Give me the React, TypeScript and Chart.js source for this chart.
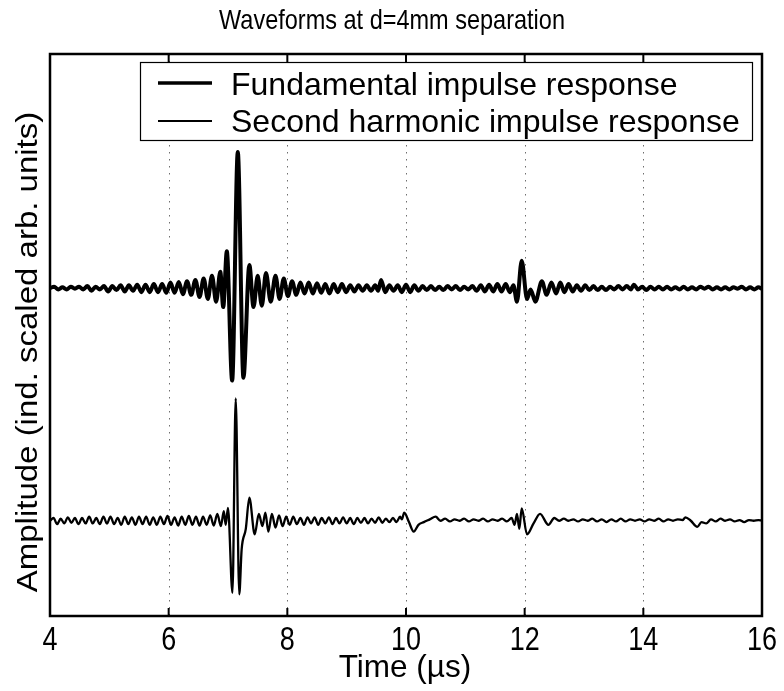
import React, { useEffect, useRef } from "react";
import { Chart, registerables } from "chart.js";

Chart.register(...registerables);

const TITLE = "Waveforms at d=4mm separation";
const X_LABEL = "Time (\u00b5s)";
const Y_LABEL = "Amplitude (ind. scaled arb. units)";
const X_TICKS = [4, 6, 8, 10, 12, 14, 16];
const X_TICK_LABELS = ["4", "6", "8", "10", "12", "14", "16"];
const SERIES_NAMES = ["Fundamental impulse response", "Second harmonic impulse response"];

// Fundamental: times (µs) and amplitudes (arb. units, main peak = 100)
const fundT = [
  4.00, 4.07, 4.14, 4.21, 4.28, 4.35, 4.42, 4.49, 4.56, 4.63, 4.70, 4.77, 4.84, 4.91, 4.98,
  5.05, 5.12, 5.19, 5.26, 5.33, 5.40, 5.47, 5.54, 5.61, 5.68, 5.75, 5.82, 5.89, 5.96,
  6.03, 6.10, 6.17, 6.24, 6.31, 6.38, 6.45, 6.52, 6.59, 6.66, 6.73, 6.80, 6.87, 6.92, 6.98,
  7.07, 7.165, 7.26, 7.36, 7.43, 7.50, 7.57, 7.64, 7.72, 7.80, 7.87, 7.94,
  8.01, 8.08, 8.15, 8.22, 8.29, 8.36, 8.43, 8.50, 8.57, 8.64, 8.71, 8.78, 8.85, 8.92, 8.99,
  9.06, 9.13, 9.20, 9.27, 9.34, 9.41, 9.48, 9.53, 9.58, 9.65, 9.72, 9.79, 9.86, 9.93,
  10.00, 10.07, 10.14, 10.21, 10.28, 10.35, 10.42, 10.49, 10.56, 10.63, 10.70, 10.77, 10.84, 10.91, 10.98,
  11.05, 11.12, 11.19, 11.26, 11.33, 11.40, 11.47, 11.54, 11.61, 11.68, 11.75, 11.81, 11.87, 11.95,
  12.04, 12.10, 12.18, 12.29, 12.37, 12.45, 12.53, 12.60, 12.67, 12.74, 12.81, 12.88, 12.95,
  13.02, 13.09, 13.16, 13.23, 13.30, 13.37, 13.44, 13.51, 13.58, 13.65, 13.72, 13.79, 13.84, 13.91, 13.98,
  14.05, 14.12, 14.19, 14.26, 14.33, 14.40, 14.47, 14.54, 14.61, 14.68, 14.75, 14.82, 14.89, 14.96,
  15.03, 15.10, 15.17, 15.24, 15.31, 15.38, 15.45, 15.52, 15.59, 15.66, 15.73, 15.80, 15.87, 15.94, 16.00,
];
const fundV = [
  0, 1, -1, 0.5, -1, 1, -0.5, 1, -1, 1.5, -2, 1, -1, 1.5, -2.5,
  1.5, -1.5, 2, -2.5, 2, -2, 2.5, -3, 2.5, -3, 3, -3, 3, -3.5,
  4, -3.5, 4.5, -4.5, 5, -5, 6, -6.5, 7, -8, 9, -10, 12, -14, 27,
  -68, 100, -66, 17, -14, 9, -13, 11, -10, 9, -8, 7,
  -6, 5, -5, 4, -4, 4, -4, 3.5, -3.5, 3, -4, 3, -3, 3, -3,
  2, -2.5, 2, -2, 2, -2, 2, -2, 6, -3, 2, -2, 2, -3,
  2.5, -3, 2, -2, 1.5, -1.5, 1.5, -1.5, 1, -1.5, 1.5, -1, 1.5, -1.5, 1,
  -1, 1.5, -2, 2, -2.5, 2.5, -2.5, 3, -2.5, 3, -3, 2, -10, 20,
  -8, -1, -10, 5, -5, 4, -4, 4, -3, 3, -2.5, 2, -2,
  2, -1.5, 1.5, -1.5, 1, -1.5, 1, -1, 1.5, -1, 1.5, -1, 2.5, -1, 1,
  -1.5, 1, -1, 1, -1, 1, -1, 0.5, -1, 1, -1, 0.5, -1, 1,
  -0.5, 1, -1, 0.5, -1, 0.5, -1, 0.5, -0.5, 1, -1, 0.5, -1, 0.5, -0.5,
];

// Second harmonic: times (µs) and amplitudes (arb. units)
const harmT = [
  4.00, 4.06, 4.12, 4.18, 4.24, 4.30, 4.36, 4.42, 4.48, 4.54, 4.60, 4.66, 4.72, 4.78, 4.84, 4.90, 4.96,
  5.02, 5.08, 5.14, 5.20, 5.26, 5.32, 5.38, 5.44, 5.50, 5.56, 5.62, 5.68, 5.74, 5.80, 5.86, 5.92, 5.98,
  6.04, 6.10, 6.16, 6.22, 6.28, 6.34, 6.40, 6.46, 6.52, 6.58, 6.64, 6.70, 6.76, 6.82, 6.88, 6.93, 6.96,
  7.00, 7.075, 7.13, 7.19, 7.23, 7.30, 7.36, 7.45, 7.52, 7.58, 7.63, 7.68, 7.74, 7.80, 7.86, 7.92, 7.98,
  8.04, 8.10, 8.16, 8.22, 8.28, 8.34, 8.40, 8.46, 8.52, 8.58, 8.64, 8.70, 8.76, 8.82, 8.88, 8.94,
  9.00, 9.06, 9.12, 9.18, 9.24, 9.30, 9.36, 9.42, 9.48, 9.54, 9.60, 9.66, 9.72, 9.78, 9.84, 9.90, 9.93, 9.97,
  10.05, 10.13, 10.21, 10.30, 10.40, 10.50, 10.58, 10.66, 10.74, 10.82, 10.90, 10.98,
  11.06, 11.14, 11.22, 11.30, 11.38, 11.46, 11.54, 11.62, 11.70, 11.78, 11.83, 11.87, 11.91, 11.95,
  12.04, 12.15, 12.26, 12.40, 12.50, 12.58, 12.66, 12.74, 12.82, 12.90, 12.98,
  13.06, 13.14, 13.22, 13.30, 13.38, 13.46, 13.54, 13.62, 13.70, 13.78, 13.86, 13.94,
  14.02, 14.10, 14.18, 14.26, 14.34, 14.42, 14.50, 14.58, 14.66, 14.71, 14.80, 14.91, 14.98,
  15.06, 15.14, 15.22, 15.30, 15.38, 15.46, 15.54, 15.62, 15.70, 15.78, 15.86, 15.94, 16.00,
];
const harmV = [
  0, 2, -2.5, 1.5, -2, 2.5, -1.5, 2, -2.5, 2, -2, 3, -2, 2, -2.5, 3, -2,
  3, -2.5, 2, -3, 3, -2.5, 2.5, -3, 3, -2.5, 3, -3, 2.5, -3, 3, -2.5, 3.5,
  -3, 2.5, -3.5, 3, -3, 3.5, -3, 3, -3.5, 3, -3, 4, -3.5, 5, -4, 7, -3,
  9.5, -53, 90, -54, -21, -6, 17, -10, 5, -4, 6, -8, 5, -5, 4, -4, 3,
  -3, 3, -2.5, 2, -3, 2.5, -2, 2.5, -3, 2, -2, 2.5, -2.5, 2, -2, 2.5,
  -2, 2, -2.5, 2, -1.5, 2, -2, 1.5, -1.5, 2.5, -1.5, 1.5, -1, 2, -1, 3, 1, 6,
  -1, -8, -3, -1, 1, 3, 0, 1.5, -0.5, 1, 0, 1.5,
  -0.5, 1, 0, 1.5, -0.5, 1, 0, 1.5, -0.5, 2, -3, 5, -6, 9,
  -10, -2, 5, -3, 2, 0, 1.5, 0, 1, -0.5, 1,
  0, 1.5, -0.5, 1, -1, 1, -0.5, 1.5, -0.5, 1, 0, 1,
  -0.5, 1, 0, 1.5, -0.5, 1, 0, 1, 0.5, 2.5, 0, -4.5, -1,
  -2, 1, -0.5, 1.5, 0, 1, -0.5, 0.5, -1, 0.5, 0, 0.5, 0,
];

const FUND_OFFSET = 0;
const HARM_OFFSET = -171;
const Y_MIN = -241;
const Y_MAX = 172;

const FONT = '"Liberation Sans", Arial, Helvetica, sans-serif';

function drawText(
  ctx: CanvasRenderingContext2D,
  text: string,
  x: number,
  y: number,
  size: number,
  align: CanvasTextAlign,
  stretch: number,
  rotate = 0
) {
  ctx.save();
  ctx.translate(x, y);
  if (rotate) ctx.rotate(rotate);
  ctx.scale(1, stretch);
  ctx.font = `${size}px ${FONT}`;
  ctx.textAlign = align;
  ctx.textBaseline = "alphabetic";
  ctx.fillStyle = "#000";
  ctx.fillText(text, 0, 0);
  ctx.restore();
}

const overlay = {
  id: "overlay",
  beforeDatasetsDraw(chart: any) {
    const { ctx, chartArea: a, scales } = chart;
    const x = scales.x;
    ctx.save();
    ctx.strokeStyle = "#6e6e6e";
    ctx.lineWidth = 1;
    ctx.setLineDash([1.5, 5.5]);
    X_TICKS.forEach((t, i) => {
      if (i === 0 || i === X_TICKS.length - 1) return;
      const px = Math.round(x.getPixelForValue(t)) + 0.5;
      ctx.beginPath();
      ctx.moveTo(px, a.top);
      ctx.lineTo(px, a.bottom);
      ctx.stroke();
    });
    ctx.restore();
  },
  afterDatasetsDraw(chart: any) {
    const { ctx, chartArea: a, scales } = chart;
    const x = scales.x;
    ctx.save();
    ctx.strokeStyle = "#000";
    ctx.lineWidth = 2;
    X_TICKS.forEach((t) => {
      const px = x.getPixelForValue(t);
      ctx.beginPath();
      ctx.moveTo(px, a.bottom);
      ctx.lineTo(px, a.bottom - 8);
      ctx.moveTo(px, a.top);
      ctx.lineTo(px, a.top + 8);
      ctx.stroke();
    });
    ctx.lineWidth = 2.5;
    ctx.strokeRect(a.left, a.top, a.right - a.left, a.bottom - a.top);

    // legend
    const lx0 = 140, ly0 = 62, lx1 = 753, ly1 = 141;
    ctx.fillStyle = "#fff";
    ctx.fillRect(lx0, ly0, lx1 - lx0, ly1 - ly0);
    ctx.lineWidth = 1.2;
    ctx.strokeRect(lx0 + 0.5, ly0 + 0.5, lx1 - lx0 - 1, ly1 - ly0 - 1);
    const ds = chart.data.datasets;
    const rows = [83, 121];
    const bases = [95, 131.5];
    const legendWidths = [3.5, 2];
    ds.forEach((d: any, i: number) => {
      ctx.strokeStyle = "#000";
      ctx.lineWidth = legendWidths[i];
      ctx.beginPath();
      ctx.moveTo(158, rows[i]);
      ctx.lineTo(212, rows[i]);
      ctx.stroke();
      drawText(ctx, d.label, 231, bases[i], 32, "left", 1);
    });

    X_TICKS.forEach((t, i) => {
      drawText(ctx, X_TICK_LABELS[i], x.getPixelForValue(t), 650, 27, "center", 1.22);
    });
    drawText(ctx, X_LABEL, 405, 677, 31.5, "center", 1);
    drawText(ctx, Y_LABEL, 37, 352, 33, "center", 0.92, -Math.PI / 2);
    drawText(ctx, TITLE, 392, 29, 23.5, "center", 1.2);
    ctx.restore();
  },
};

export default function App() {
  const ref = useRef<HTMLCanvasElement>(null);
  useEffect(() => {
    document.body.style.margin = "0";
    const canvas = ref.current!;
    const mk = (t: number[], v: number[], off: number) => t.map((tt, i) => ({ x: tt, y: v[i] + off }));
    const chart = new Chart(canvas, {
      type: "line",
      data: {
        datasets: [
          {
            label: SERIES_NAMES[0],
            data: mk(fundT, fundV, FUND_OFFSET),
            borderColor: "#000",
            borderWidth: 4,
            pointRadius: 0,
            cubicInterpolationMode: "monotone",
            borderJoinStyle: "round",
            borderCapStyle: "round",
            fill: false,
          },
          {
            label: SERIES_NAMES[1],
            data: mk(harmT, harmV, HARM_OFFSET),
            borderColor: "#000",
            borderWidth: 2.3,
            pointRadius: 0,
            cubicInterpolationMode: "monotone",
            borderJoinStyle: "round",
            borderCapStyle: "round",
            fill: false,
          },
        ],
      } as any,
      options: {
        responsive: false,
        animation: false,
        devicePixelRatio: 1,
        events: [],
        layout: { padding: { left: 50, right: 22, top: 54, bottom: 75 } },
        scales: {
          x: { type: "linear", min: 4, max: 16, display: false },
          y: { type: "linear", min: Y_MIN, max: Y_MAX, display: false },
        },
        plugins: {
          legend: { display: false },
          title: { display: false },
          tooltip: { enabled: false },
        },
      },
      plugins: [overlay],
    });
    return () => chart.destroy();
  }, []);
  return (
    <div style={{ width: 784, height: 691, background: "#fff" }}>
      <canvas ref={ref} width={784} height={691} style={{ display: "block", width: 784, height: 691 }} />
    </div>
  );
}
